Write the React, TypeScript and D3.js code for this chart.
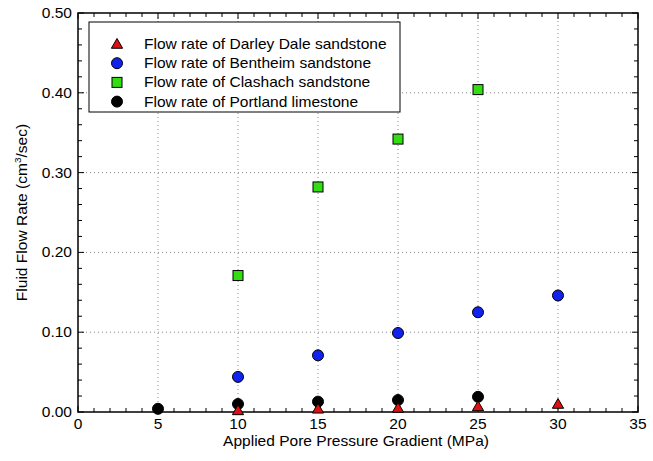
import * as d3 from "d3";
import React from "react";

const darleyX = [10, 15, 20, 25, 30];
const darleyY = [0.002, 0.004, 0.005, 0.007, 0.01];
const bentheimX = [10, 15, 20, 25, 30];
const bentheimY = [0.044, 0.071, 0.099, 0.125, 0.146];
const clashachX = [10, 15, 20, 25];
const clashachY = [0.171, 0.282, 0.342, 0.404];
const portlandX = [5, 10, 15, 20, 25];
const portlandY = [0.004, 0.01, 0.013, 0.015, 0.019];

const xTicks = [0, 5, 10, 15, 20, 25, 30, 35];
const yTicks = [0, 0.1, 0.2, 0.3, 0.4, 0.5];
const legendLabels = [
  "Flow rate of Darley Dale sandstone",
  "Flow rate of Bentheim sandstone",
  "Flow rate of Clashach sandstone",
  "Flow rate of Portland limestone",
];

const W = 653, H = 461;
const left = 78, right = 638, top = 13, bottom = 412;
const font = "Liberation Sans, Arial, sans-serif";
const sx = 1.11; // reference text is a bit wide

// text stretched horizontally
const T = ({ x, y, anchor = "start", size = 14, rotate = 0, children }) => (
  <text
    transform={`translate(${x},${y}) rotate(${rotate}) scale(${sx},1)`}
    textAnchor={anchor}
    fontFamily={font}
    fontSize={size}
  >
    {children}
  </text>
);

const App = () => {
  const x = d3.scaleLinear().domain([0, 35]).range([left, right]);
  const y = d3.scaleLinear().domain([0, 0.5]).range([bottom, top]);
  const minorX = d3.range(0, 36, 1);
  const minorY = d3.range(0, 0.5001, 0.02);
  const tri = d3.symbol().type(d3.symbolTriangle).size(55)();

  const marker = (i, cx, cy) => {
    if (i === 0) return <path d={tri} transform={`translate(${cx},${cy + 1})`} fill="#dd1111" stroke="#000" strokeWidth={1} />;
    if (i === 1) return <circle cx={cx} cy={cy} r={5.5} fill="#1122ee" stroke="#000" strokeWidth={1} />;
    if (i === 2) return <rect x={cx - 5} y={cy - 5} width={10} height={10} fill="#33dd11" stroke="#000" strokeWidth={1} />;
    return <circle cx={cx} cy={cy} r={5.5} fill="#000" stroke="#000" strokeWidth={1} />;
  };

  return (
    <svg width={W} height={H} style={{ position: "absolute", left: 0, top: 0 }}>
      <rect width={W} height={H} fill="#fff" />
      {/* grid */}
      {xTicks.slice(1, -1).map(t => (
        <line key={"gx" + t} x1={x(t)} x2={x(t)} y1={top} y2={bottom} stroke="#888" strokeWidth={1} strokeDasharray="1,3" />
      ))}
      {yTicks.slice(1, -1).map(t => (
        <line key={"gy" + t} x1={left} x2={right} y1={y(t)} y2={y(t)} stroke="#888" strokeWidth={1} strokeDasharray="1,3" />
      ))}
      {/* ticks */}
      {minorX.map(t => {
        const len = t % 5 === 0 ? 6 : 4;
        return (
          <g key={"mx" + t}>
            <line x1={x(t)} x2={x(t)} y1={bottom} y2={bottom - len} stroke="#000" />
            <line x1={x(t)} x2={x(t)} y1={top} y2={top + len} stroke="#000" />
          </g>
        );
      })}
      {minorY.map((t, i) => {
        const len = i % 5 === 0 ? 6 : 4;
        return (
          <g key={"my" + i}>
            <line x1={left} x2={left + len} y1={y(t)} y2={y(t)} stroke="#000" />
            <line x1={right} x2={right - len} y1={y(t)} y2={y(t)} stroke="#000" />
          </g>
        );
      })}
      <rect x={left} y={top} width={right - left} height={bottom - top} fill="none" stroke="#000" strokeWidth={1.5} />
      {/* tick labels */}
      {xTicks.map(t => (
        <T key={"tx" + t} x={x(t)} y={bottom + 17} anchor="middle">{t}</T>
      ))}
      {yTicks.map(t => (
        <T key={"ty" + t} x={left - 6} y={y(t) + 5} anchor="end">{t.toFixed(2)}</T>
      ))}
      <T x={356} y={446} anchor="middle">Applied Pore Pressure Gradient (MPa)</T>
      <T x={27} y={(top + bottom) / 2} anchor="middle" rotate={-90}>
        Fluid Flow Rate (cm<tspan dy={-6} fontSize={9}>3</tspan><tspan dy={6}>/sec)</tspan>
      </T>
      {/* legend */}
      <rect x={89} y={22} width={311} height={90} fill="#fff" stroke="#000" strokeWidth={1} />
      {legendLabels.map((l, i) => (
        <g key={l}>
          {marker(i, 117, 44 + i * 19.2)}
          <T x={144} y={49 + i * 19.2}>{l}</T>
        </g>
      ))}
      {/* data */}
      {portlandX.map((v, i) => <g key={"p" + i}>{marker(3, x(v), y(portlandY[i]))}</g>)}
      {darleyX.map((v, i) => <g key={"d" + i}>{marker(0, x(v), y(darleyY[i]))}</g>)}
      {bentheimX.map((v, i) => <g key={"b" + i}>{marker(1, x(v), y(bentheimY[i]))}</g>)}
      {clashachX.map((v, i) => <g key={"c" + i}>{marker(2, x(v), y(clashachY[i]))}</g>)}
    </svg>
  );
};

export default App;
